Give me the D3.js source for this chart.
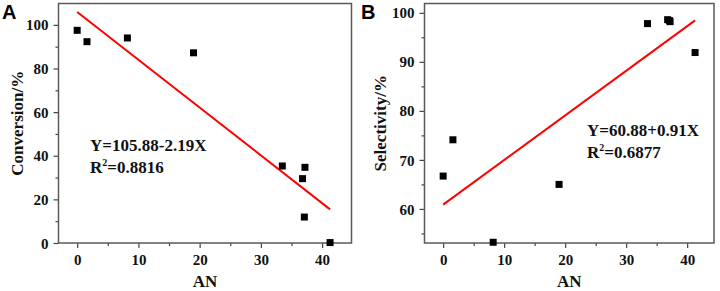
<!DOCTYPE html>
<html>
<head>
<meta charset="utf-8">
<script src="https://cdn.jsdelivr.net/npm/d3@7"></script>
<style>
  body { margin: 0; background: #fff; }
  svg { display: block; }
</style>
</head>
<body>
<svg id="chart" width="720" height="291"></svg>
<script>
// shared x values (AN) for both panels
const an = [0, 1.6, 8.2, 19, 33.5, 36.8, 37.2, 37.1, 41.3];
const conversion = [97.5, 92.3, 94.0, 87.2, 35.3, 29.5, 34.7, 11.9, 0.2];
const selectivity = [66.7, 74.1, 53.2, 65.0, 97.8, 98.6, 98.2, 98.4, 91.9];

// fit lines as printed on the figure
const fitA = { a: 105.88, b: -2.19 };
const fitB = { a: 60.88, b: 0.91 };

const xTicks = [0, 10, 20, 30, 40];
const xMinor = [5, 15, 25, 35];
const yTicksA = [0, 20, 40, 60, 80, 100];
const yMinorA = [10, 30, 50, 70, 90];
const yTicksB = [60, 70, 80, 90, 100];
const yMinorB = [55, 65, 75, 85, 95];

const svg = d3.select("#chart");
const serif = '"Liberation Serif", "Times New Roman", serif';

function styleAxis(sel) {
    sel.attr("font-family", serif).attr("font-size", 15);
    sel.select(".domain").remove();
    sel.selectAll("line").attr("stroke", "#444").attr("stroke-width", 1.2);
    sel.selectAll("text")
        .style("font-family", serif)
        .style("font-weight", "bold")
        .style("font-size", "15px")
        .attr("fill", "#111");
}

function drawPanel(opt) {
    const x = d3.scaleLinear().domain(opt.xDomain).range([opt.left, opt.right]);
    const y = d3.scaleLinear().domain(opt.yDomain).range([opt.bottom, opt.top]);
    const g = svg.append("g");

    // minor ticks first
    g.append("g")
        .attr("transform", "translate(0," + opt.bottom + ")")
        .call(d3.axisBottom(x).tickValues(xMinor).tickSize(3).tickFormat(""))
        .call(styleAxis);
    g.append("g")
        .attr("transform", "translate(" + opt.left + ",0)")
        .call(d3.axisLeft(y).tickValues(opt.yMinor).tickSize(3).tickFormat(""))
        .call(styleAxis);

    g.append("g")
        .attr("transform", "translate(0," + opt.bottom + ")")
        .call(d3.axisBottom(x).tickValues(xTicks).tickSize(5).tickSizeOuter(0).tickPadding(6))
        .call(styleAxis);

    const ya = g.append("g")
        .attr("transform", "translate(" + opt.left + ",0)")
        .call(d3.axisLeft(y).tickValues(opt.yTicks).tickSize(5).tickSizeOuter(0).tickPadding(5))
        .call(styleAxis);
    ya.selectAll("text").attr("dy", "0.34em");

    // frame
    g.append("rect")
        .attr("x", opt.left).attr("y", opt.top)
        .attr("width", opt.right - opt.left).attr("height", opt.bottom - opt.top)
        .attr("fill", "none").attr("stroke", "#5a5a5a").attr("stroke-width", 1.5);

    // fit line
    const x0 = d3.min(an), x1 = d3.max(an);
    g.append("line")
        .attr("x1", x(x0)).attr("y1", y(opt.fit.a + opt.fit.b * x0))
        .attr("x2", x(x1)).attr("y2", y(opt.fit.a + opt.fit.b * x1))
        .attr("stroke", "#ff0000").attr("stroke-width", 2);

    // points
    const sz = 7;
    g.selectAll(".pt").data(an.map((v, i) => [v, opt.values[i]]))
        .enter().append("rect")
        .attr("class", "pt")
        .attr("x", d => x(d[0]) - sz / 2).attr("y", d => y(d[1]) - sz / 2)
        .attr("width", sz).attr("height", sz)
        .attr("fill", "#000");

    // axis titles
    g.append("text")
        .attr("x", (opt.left + opt.right) / 2).attr("y", 287)
        .attr("text-anchor", "middle")
        .attr("font-family", serif).attr("font-weight", "bold").attr("font-size", 17)
        .attr("fill", "#111")
        .text("AN");
    g.append("text")
        .attr("transform", "translate(" + opt.titleX + "," + ((opt.top + opt.bottom) / 2) + ") rotate(-90)")
        .attr("text-anchor", "middle")
        .attr("font-family", serif).attr("font-weight", "bold").attr("font-size", 17)
        .attr("fill", "#111")
        .text(opt.yTitle);

    // equation
    g.append("text")
        .attr("x", opt.eqX).attr("y", opt.eqY)
        .attr("font-family", serif).attr("font-weight", "bold").attr("font-size", 17)
        .attr("fill", "#111")
        .text(opt.eqText);
    const r2 = g.append("text")
        .attr("x", opt.eqX).attr("y", opt.eqY + 22)
        .attr("font-family", serif).attr("font-weight", "bold").attr("font-size", 17)
        .attr("fill", "#111");
    r2.append("tspan").text("R");
    r2.append("tspan").attr("font-size", 10).attr("dy", -7).text("2");
    r2.append("tspan").attr("dy", 7).text("=" + opt.r2);

    // panel letter
    g.append("text")
        .attr("x", opt.letterX).attr("y", 19)
        .attr("font-family", '"Liberation Sans", Arial, sans-serif')
        .attr("font-weight", "bold").attr("font-size", 20)
        .text(opt.letter);
}

drawPanel({
    left: 58.5, right: 351.5, top: 3.5, bottom: 243,
    xDomain: [-3.05, 44.8], yDomain: [0, 109.8],
    yTicks: yTicksA, yMinor: yMinorA,
    values: conversion, fit: fitA,
    yTitle: "Conversion/%", titleX: 23,
    eqText: "Y=105.88-2.19X", r2: "0.8816", eqX: 90, eqY: 150.5,
    letter: "A", letterX: 2
});

drawPanel({
    left: 424.5, right: 714, top: 3.5, bottom: 243,
    xDomain: [-3.06, 44.4], yDomain: [53.05, 101.9],
    yTicks: yTicksB, yMinor: yMinorB,
    values: selectivity, fit: fitB,
    yTitle: "Selectivity/%", titleX: 386,
    eqX: 587, eqY: 135.5, eqText: "Y=60.88+0.91X", r2: "0.6877",
    letter: "B", letterX: 361
});
</script>
</body>
</html>
